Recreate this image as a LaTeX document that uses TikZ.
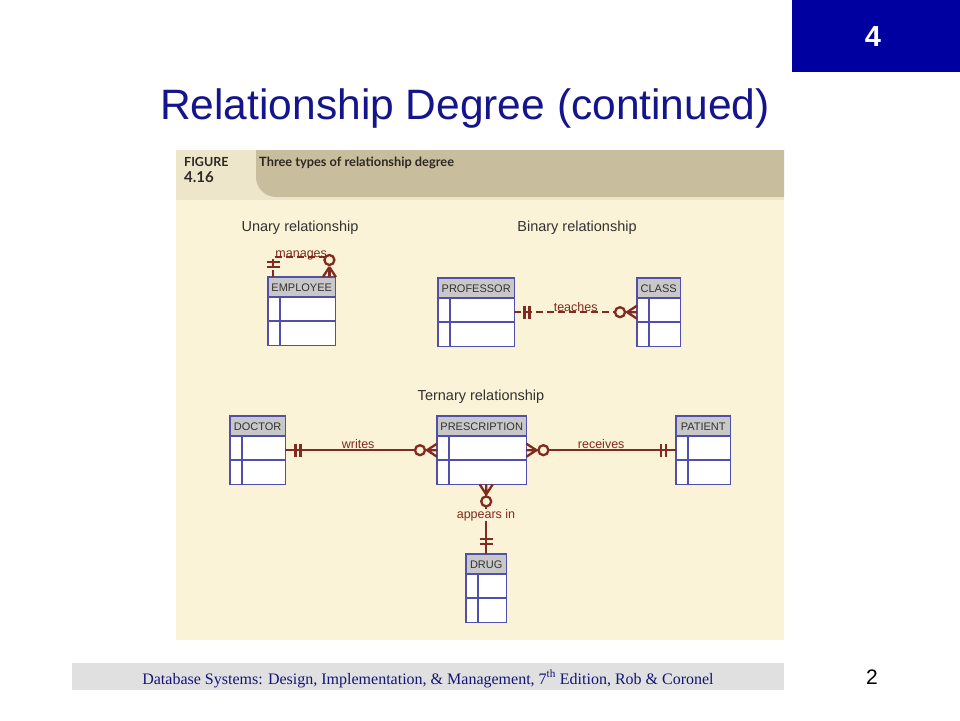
\documentclass[tikz,border=0pt]{standalone}
\usepackage{fontspec}
\setmainfont{Liberation Sans}
\newfontfamily\serifont{Liberation Serif}
\newfontfamily\capfont{Lato}
\usetikzlibrary{calc}
\definecolor{navybox}{RGB}{0,0,160}
\definecolor{titleblue}{RGB}{20,20,140}
\definecolor{cream}{RGB}{251,243,215}
\definecolor{hdrlight}{RGB}{238,230,203}
\definecolor{tan}{RGB}{200,190,157}
\definecolor{capink}{RGB}{45,40,35}
\definecolor{entc}{RGB}{80,80,170}
\definecolor{hdrgray}{RGB}{200,200,200}
\definecolor{relc}{RGB}{128,42,32}
\definecolor{headink}{RGB}{50,50,50}
\definecolor{footgray}{RGB}{224,224,224}
\definecolor{footink}{RGB}{20,20,120}
\tikzset{
  entbox/.style={minimum height=68pt, inner sep=0pt, fill=white, draw=none},
  entline/.style={draw=entc, line width=1.5pt},
  enttext/.style={font=\fontsize{11}{13}\selectfont, text=headink, inner sep=0pt},
  rel/.style={draw=relc, line width=2.3pt},
  reldash/.style={dash pattern=on 7pt off 4pt},
  rellabel/.style={font=\fontsize{12.5}{14}\selectfont, text=relc, inner sep=0.5pt},
  heading/.style={font=\fontsize{14.5}{17}\selectfont, text=headink, anchor=base, inner sep=0pt},
}
\newcommand\entity[5]{%
  \node[entbox, minimum width=#4pt, anchor=north west] (#1) at (#2,#3) {};
  \fill[hdrgray] (#1.north west) rectangle ($(#1.north east)+(0,20)$);
  \draw[entline] (#1.north west) rectangle (#1.south east);
  \draw[entline] ($(#1.north west)+(0,20)$) -- ($(#1.north east)+(0,20)$);
  \draw[entline] ($(#1.north west)+(0,44)$) -- ($(#1.north east)+(0,44)$);
  \draw[entline] ($(#1.north west)+(12,20)$) -- ($(#1.south west)+(12,0)$);
  \node[enttext] at ($(#1.north)+(0,10.5)$) {#5};
}
\newcommand\crowzero[2]{%
  \begin{scope}[shift={(#1)},rotate=#2]
    \draw[rel] (10,0) -- (0,-6.5) (10,0) -- (0,0) (10,0) -- (0,6.5);
    \draw[rel,fill=cream] (17,0) circle[radius=5pt];
  \end{scope}}
\newcommand\onebars[2]{%
  \begin{scope}[shift={(#1)},rotate=#2]
    \draw[rel] (10,-6.5) -- (10,6.5) (15,-6.5) -- (15,6.5);
  \end{scope}}
\begin{document}
\begin{tikzpicture}[x=1pt,y=-1pt]
\useasboundingbox (0,0) rectangle (960,720);
\fill[white] (0,0) rectangle (960,720);
% top-right box
\fill[navybox] (792,0) rectangle (960,72);
\node[font=\fontsize{29}{32}\selectfont\bfseries, text=white, inner sep=0pt] (chap) at (873,37) {4};
% title
\node[font=\fontsize{42.5}{48}\selectfont, text=titleblue, anchor=base, inner sep=0pt] (title) at (465,119) {Relationship Degree (continued)};
% panel
\fill[cream] (176,150) rectangle (784,640);
\fill[hdrlight] (176,150) rectangle (784,200);
\fill[tan] (256,150) -- (784,150) -- (784,197) -- (276,197) .. controls (265,197) and (256,188) .. (256,177) -- cycle;
\node[font=\capfont\bfseries\fontsize{12.5}{14}\selectfont, text=capink, anchor=base west, inner sep=0pt] (fig) at (184,166) {FIGURE};
\node[font=\capfont\bfseries\fontsize{15}{17}\selectfont, text=capink, anchor=base west, inner sep=0pt] (fignum) at (184,182) {4.16};
\node[font=\capfont\bfseries\fontsize{12.8}{14}\selectfont, text=capink, anchor=base west, inner sep=0pt] (figcap) at (259,166) {Three types of relationship degree};
% headings
\node[heading] (hu) at (300,231) {Unary relationship};
\node[heading] (hb) at (577,231) {Binary relationship};
\node[heading] (ht) at (481,400) {Ternary relationship};
% entities
\entity{emp}{268}{277}{67}{EMPLOYEE}
\entity{prof}{438}{278}{76}{PROFESSOR}
\entity{cls}{637}{278}{43}{CLASS}
\entity{doc}{230}{416}{55}{DOCTOR}
\entity{presc}{437}{416}{89}{PRESCRIPTION}
\entity{pat}{676}{416}{54}{PATIENT}
\entity{drug}{466}{554}{40}{DRUG}
% unary: manages
\coordinate (ua) at ($(emp.north west)+(5,0)$);
\coordinate (ub) at ($(emp.north east)+(-6,0)$);
\draw[rel,reldash] (ua) -- ++(0,-20) -| (ub);
\onebars{ua}{90}
\crowzero{ub}{90}
\node[rellabel, anchor=base] (lman) at ($(ua)!0.5!(ub)+(0,-20)$) {manages};
% binary: teaches
\draw[rel,reldash] (prof.east) -- (cls.west);
\onebars{prof.east}{0}
\crowzero{cls.west}{180}
\node[rellabel, anchor=base] (ltea) at ($(prof.east)!0.5!(cls.west)+(0,-1)$) {teaches};
% ternary
\draw[rel] (doc.east) -- (presc.west);
\onebars{doc.east}{0}
\crowzero{presc.west}{180}
\node[rellabel, anchor=base] (lwri) at ($(doc.east)!0.48!(presc.west)+(0,-2)$) {writes};
\draw[rel] (presc.east) -- (pat.west);
\crowzero{presc.east}{0}
\onebars{pat.west}{180}
\node[rellabel, anchor=base] (lrec) at ($(presc.east)!0.5!(pat.west)+(0,-2)$) {receives};
\coordinate (ps) at (drug.north |- presc.south);
\draw[rel] (ps) -- (drug.north);
\crowzero{ps}{-90}
\onebars{drug.north}{90}
\node[rellabel, fill=cream] (lapp) at (486,515) {appears in};
% footer
\fill[footgray] (72,663) rectangle (784,690);
\node[font=\serifont\fontsize{16}{18}\selectfont, text=footink, anchor=base, inner sep=0pt] (foot) at (428,684) {Database Systems: Design, Implementation, \& Management, 7\textsuperscript{th} Edition, Rob \& Coronel};
\node[font=\fontsize{21}{24}\selectfont, text=black, anchor=base, inner sep=0pt] (pg) at (872,684) {2};
\end{tikzpicture}
\end{document}
